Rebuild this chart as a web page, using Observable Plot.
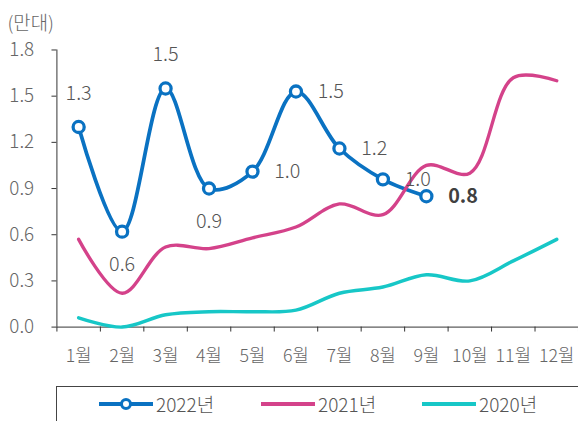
<!DOCTYPE html>
<html><head><meta charset="utf-8">
<script src="https://cdn.jsdelivr.net/npm/d3@7"></script>
<script src="https://cdn.jsdelivr.net/npm/@observablehq/plot@0.6"></script>
<style>
body{margin:0;background:#fff;overflow:hidden}
#wrap{width:578px;height:421px;overflow:hidden;position:relative;font-family:"Noto Sans CJK KR","Noto Sans",sans-serif}
#chart svg{display:block}
#legend{position:absolute;left:56px;top:386px;width:600px;height:60px;border-top:1px solid #444;border-left:1px solid #444}
.item{position:absolute;top:4px;height:26px;line-height:26px;display:flex;align-items:center;font-size:19px;color:#555;font-weight:300}
.item svg{display:block;margin-right:3px}
</style></head><body>
<div id="wrap"><div id="chart"></div><div id="legend"></div></div>
<script>
const months = [1,2,3,4,5,6,7,8,9,10,11,12];
const monthLabels = ["1월","2월","3월","4월","5월","6월","7월","8월","9월","10월","11월","12월"];
const s2022 = [1.30,0.62,1.55,0.90,1.01,1.53,1.16,0.96,0.85];
const s2022Labels = ["1.3","0.6","1.5","0.9","1.0","1.5","1.2","1.0","0.8"];
const s2022LabelSide = ["top","bottom","top","bottom","right","right","right","right","right"];
const s2021 = [0.57,0.22,0.52,0.51,0.58,0.65,0.80,0.73,1.05,1.00,1.62,1.60];
const s2020 = [0.06,0.00,0.08,0.10,0.10,0.11,0.22,0.26,0.34,0.30,0.43,0.57];
const yTicks = [0,0.3,0.6,0.9,1.2,1.5,1.8];
const seriesNames = ["2022년","2021년","2020년"];
const colors = {"2022년":"#0A72C2","2021년":"#D4428A","2020년":"#17C7C7"};

const d2022 = s2022.map((v,i)=>({m:months[i], v, label:s2022Labels[i], side:s2022LabelSide[i], last:i===s2022.length-1}));
const d2021 = s2021.map((v,i)=>({m:months[i], v}));
const d2020 = s2020.map((v,i)=>({m:months[i], v}));
const boundaries = months.map(m=>m-0.5).concat([months[months.length-1]+0.5]);

const font = '"Noto Sans CJK KR","Noto Sans",sans-serif';
const chart = Plot.plot({
  width: 584, height: 390,
  marginLeft: 57, marginRight: 0, marginTop: 50, marginBottom: 60,
  style: {fontFamily: font, fontSize: "18px", color: "#666", fontWeight: 300, background: "#fff", overflow: "visible"},
  x: {type: "linear", domain: [0.5, 12.5]},
  y: {domain: [0, 1.8]},
  marks: [
    Plot.axisY({ticks: yTicks, tickFormat: d3.format(".1f"), tickSize: 5, tickPadding: 18, fontSize: 19, stroke: "#333", fill: "#666", label: null}),
    Plot.axisX({ticks: boundaries, tickFormat: () => "", tickSize: 5, stroke: "#333", label: null}),
    Plot.axisX({ticks: months, tickFormat: (d) => monthLabels[d-1], tickSize: 0, tickPadding: 22, fontSize: 18, fill: "#666", label: null}),
    Plot.ruleX([0.5], {y1: 0, y2: 1.8, stroke: "#333"}),
    Plot.ruleY([0], {stroke: "#333"}),
    Plot.text(["(만대)"], {frameAnchor: "top-left", dx: -50, dy: -26, textAnchor: "start", lineAnchor: "middle", fontSize: 19, fill: "#666"}),
    Plot.line(d2020, {x: "m", y: "v", stroke: colors["2020년"], strokeWidth: 3.5, curve: "catmull-rom"}),
    Plot.line(d2022, {x: "m", y: "v", stroke: colors["2022년"], strokeWidth: 3.8, curve: "catmull-rom"}),
    Plot.dot(d2022, {x: "m", y: "v", r: 5.6, fill: "#fff", stroke: colors["2022년"], strokeWidth: 3.3}),
    Plot.line(d2021, {x: "m", y: "v", stroke: colors["2021년"], strokeWidth: 3.4, curve: "catmull-rom"}),
    Plot.text(d2022.filter(d=>d.side==="top"), {x: "m", y: "v", text: "label", dy: -34, fontSize: 20, fill: "#555"}),
    Plot.text(d2022.filter(d=>d.side==="bottom"), {x: "m", y: "v", text: "label", dy: 33, fontSize: 20, fill: "#555"}),
    Plot.text(d2022.filter(d=>d.side==="right" && !d.last), {x: "m", y: "v", text: "label", dx: 22, textAnchor: "start", fontSize: 20, fill: "#555"}),
    Plot.text(d2022.filter(d=>d.last), {x: "m", y: "v", text: "label", dx: 22, textAnchor: "start", fontSize: 20, fontWeight: "bold", fill: "#404040"})
  ]
});
document.getElementById("chart").appendChild(chart);

// legend
const legend = document.getElementById("legend");
const lefts = [42, 204, 365];
seriesNames.forEach((name, i) => {
  const div = document.createElement("div");
  div.className = "item";
  div.style.left = lefts[i] + "px";
  const w = 54;
  let sw = `<svg width="${w}" height="14"><line x1="0" x2="${w}" y1="7" y2="7" stroke="${colors[name]}" stroke-width="4"/>`;
  if (i === 0) sw += `<circle cx="${w/2}" cy="7" r="4.5" fill="#fff" stroke="${colors[name]}" stroke-width="3"/>`;
  sw += `</svg>`;
  div.innerHTML = sw + `<span>${name}</span>`;
  legend.appendChild(div);
});
</script>
</body></html>
